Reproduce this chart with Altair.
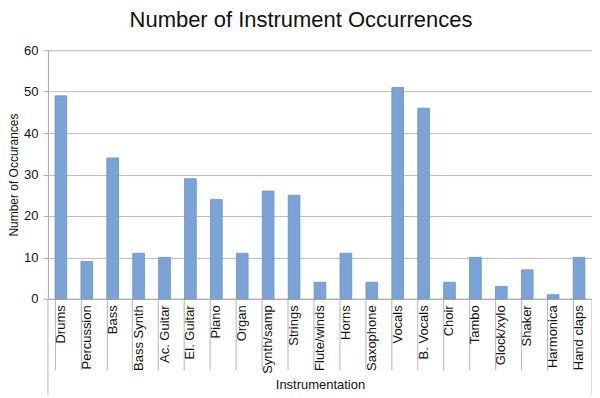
import altair as alt
import pandas as pd

instruments = ["Drums", "Percussion", "Bass", "Bass Synth", "Ac. Guitar", "El. Guitar",
               "Piano", "Organ", "Synth/samp", "Strings", "Flute/winds", "Horns",
               "Saxophone", "Vocals", "B. Vocals", "Choir", "Tambo", "Glock/xylo",
               "Shaker", "Harmonica", "Hand claps"]
counts = [49, 9, 34, 11, 10, 29, 24, 11, 26, 25, 4, 11, 4, 51, 46, 4, 10, 3, 7, 1, 10]
y_ticks = [0, 10, 20, 30, 40, 50, 60]

df = pd.DataFrame({"Instrument": instruments, "Count": counts})

FONT = "Liberation Sans"
W, H = 545, 249
TICK = 71

bars = alt.Chart(df).mark_bar(color="#7BA3D5", stroke="#6690C4", strokeWidth=0.8).encode(
    x=alt.X("Instrument:N", sort=instruments,
            scale=alt.Scale(paddingInner=0.55, paddingOuter=0.275),
            axis=alt.Axis(title="Instrumentation", labelAngle=270, labelAlign="right",
                          labelBaseline="middle", labelPadding=6 - TICK, labelFontSize=13,
                          labelFont=FONT, labelColor="#111", bandPosition=0,
                          tickSize=TICK, tickColor="#B5B5B5", domainColor="#A8A8A8",
                          titleFont=FONT, titleFontSize=13, titleFontWeight="normal",
                          titleColor="#111", titlePadding=5, labelOverlap=False,
                          labelBound=False)),
    y=alt.Y("Count:Q", scale=alt.Scale(domain=[0, 60], nice=False),
            axis=alt.Axis(title="Number of Occurances", values=y_ticks, tickSize=5,
                          tickColor="#A8A8A8", domainColor="#A8A8A8", gridColor="#BDBDBD",
                          labelFont=FONT, labelFontSize=13, labelColor="#111",
                          labelPadding=5, titleFont=FONT, titleFontSize=12,
                          titleFontWeight="normal", titleColor="#111", titlePadding=3)),
)

one = pd.DataFrame({"k": [0]})
left_edge = alt.Chart(one).mark_rule(color="#B5B5B5").encode(
    x=alt.value(0), y=alt.value(H), y2=alt.value(H + 96))
right_edge = alt.Chart(one).mark_rule(color="#B5B5B5").encode(
    x=alt.value(W), y=alt.value(H), y2=alt.value(H + 96))

chart = alt.layer(bars, left_edge, right_edge).properties(
    width=W, height=H,
    title=alt.TitleParams("Number of Instrument Occurrences", font=FONT, fontSize=22,
                          fontWeight="normal", color="#111", anchor="middle", dx=-19,
                          offset=12),
    autosize=alt.AutoSizeParams(type="none"),
    padding={"left": 40, "top": 42, "right": 0, "bottom": 99},
).configure_view(stroke=None, fill="#EFEFEF").configure(background="white")

chart.save("out.html", embed_options={"renderer": "svg", "actions": False})
